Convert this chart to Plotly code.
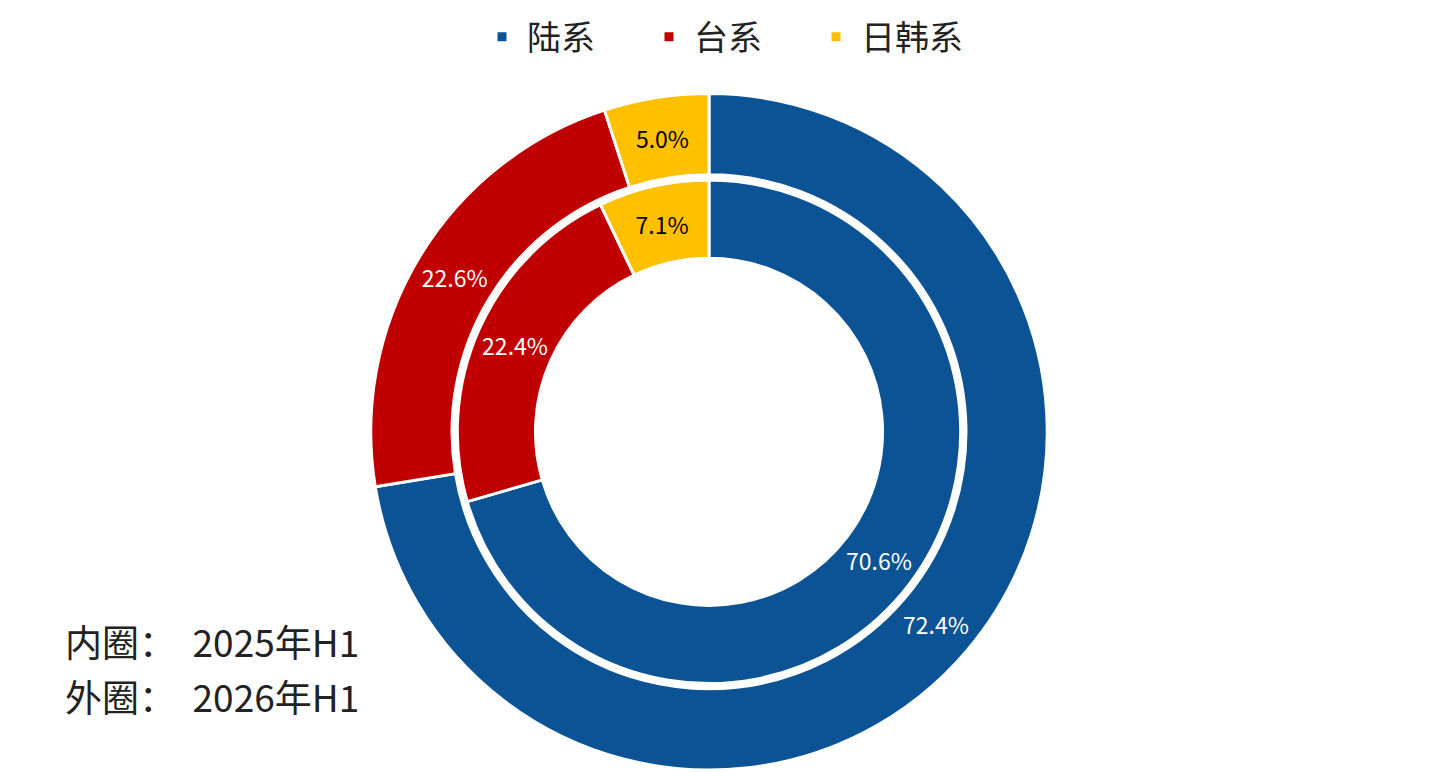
import plotly.graph_objects as go

labels = ["陆系", "台系", "日韩系"]
inner_2025 = [70.6, 22.4, 7.1]
outer_2026 = [72.4, 22.6, 5.0]
colors = ["#0B5394", "#C00000", "#FFC000"]
text_colors = ["white", "white", "black"]

W, H = 1439, 772
cx, cy = 701, 350  # center, y measured from bottom


def dom(r):
    return dict(x=[(cx - r) / W, (cx + r) / W], y=[(cy - r) / H, (cy + r) / H])


common = dict(
    labels=labels, sort=False, direction="clockwise", rotation=0,
    marker=dict(colors=colors, line=dict(color="white", width=3)),
    texttemplate="%{value:.1f}%", textposition="inside",
    insidetextorientation="horizontal",
    textfont=dict(size=23, color=text_colors, family="Noto Sans CJK SC"),
    hoverinfo="label+value",
)

outer = go.Pie(values=outer_2026, hole=253 / 333, domain=dom(340), name="2026年H1", **common)
inner = go.Pie(values=inner_2025, hole=171 / 248, domain=dom(253), name="2025年H1",
               showlegend=False, **common)

fig = go.Figure(data=[outer, inner])
fig.update_layout(
    width=W, height=H,
    margin=dict(l=0, r=0, t=0, b=0),
    paper_bgcolor="white",
    font=dict(family="Noto Sans CJK SC", color="#222"),
    legend=dict(orientation="h", x=0.5, xanchor="center", y=1.005, yanchor="top",
                font=dict(size=34), itemwidth=40, entrywidth=112, traceorder="normal"),
    annotations=[
        dict(text="内圈：  2025年H1", x=55 / W, y=1 - 632 / H, xref="paper", yref="paper",
             xanchor="left", yanchor="middle", showarrow=False, font=dict(size=37)),
        dict(text="外圈：  2026年H1", x=55 / W, y=1 - 688 / H, xref="paper", yref="paper",
             xanchor="left", yanchor="middle", showarrow=False, font=dict(size=37)),
    ],
)
fig.write_html("out.html")
